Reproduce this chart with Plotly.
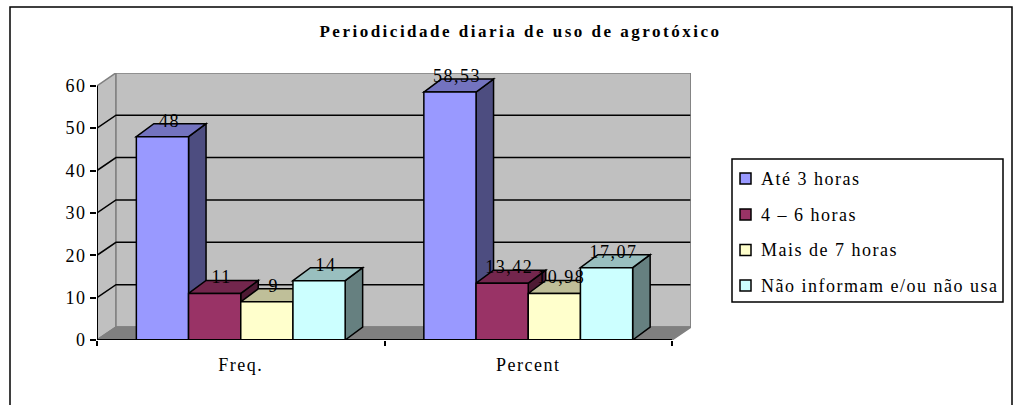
import plotly.graph_objects as go

# ---- data ----
categories = ["Freq.", "Percent"]
series_names = ["Até 3 horas", "4 – 6 horas", "Mais de 7 horas", "Não informam e/ou não usa"]
ate_3 = [48, 58.53]
h4_6 = [11, 13.42]
mais_7 = [9, 10.98]
nao_inf = [14, 17.07]
label_ate_3 = ["48", "58,53"]
label_h4_6 = ["11", "13,42"]
label_mais_7 = ["9", "10,98"]
label_nao_inf = ["14", "17,07"]
y_ticks = [0, 10, 20, 30, 40, 50, 60]
title_text = "Periodicidade diaria de uso de agrotóxico"

series_values = [ate_3, h4_6, mais_7, nao_inf]
series_labels = [label_ate_3, label_h4_6, label_mais_7, label_nao_inf]
front = ["#9999FF", "#993366", "#FFFFCC", "#CCFFFF"]
top = ["#7373BF", "#73264D", "#BFBF99", "#99BFBF"]
side = ["#4D4D80", "#4D1A33", "#808066", "#668080"]

# ---- page geometry (pixels) ----
W, H = 1016, 405
L, R, T, B = 97, 691, 73, 340      # plot rectangle including wall depth
FRONT_R = 672
Y60 = 85.8
px_x = (FRONT_R - L) / 2.0          # px per category
px_y = (B - Y60) / 60.0             # px per unit
x_max = (R - L) / px_x
y_max = (B - T) / px_y
wall_dx, wall_dy = 19 / px_x, 13 / px_y
bar_dx, bar_dy = 17.5 / px_x, 13 / px_y
bar_w = 52.2 / px_x
lab_dx, lab_dy = 7 / px_x, 14.5 / px_y
FONT = "Liberation Serif"
LW = 1.5
FS = 18


def poly(points):
    return "M" + " L".join(f"{x:.5f},{y:.5f}" for x, y in points) + " Z"


def px(x):
    return (x - L) / (R - L)


def py(y):
    return (B - y) / (B - T)


shapes = []
# side wall, back wall, floor
shapes.append(dict(type="path", xref="x", yref="y", layer="below", fillcolor="#C0C0C0",
                   line=dict(color="#808080", width=LW),
                   path=poly([(0, 0), (wall_dx, wall_dy), (wall_dx, 60 + wall_dy), (0, 60)])))
shapes.append(dict(type="path", xref="x", yref="y", layer="below", fillcolor="#C0C0C0",
                   line=dict(color="#808080", width=LW),
                   path=poly([(wall_dx, wall_dy), (2 + wall_dx, wall_dy),
                              (2 + wall_dx, 60 + wall_dy), (wall_dx, 60 + wall_dy)])))
shapes.append(dict(type="path", xref="x", yref="y", layer="below", fillcolor="#808080",
                   line=dict(color="#808080", width=LW),
                   path=poly([(0, 0), (wall_dx, wall_dy), (2 + wall_dx, wall_dy), (2, 0)])))
# gridlines
for v in y_ticks[1:-1]:
    shapes.append(dict(type="path", xref="x", yref="y", layer="below",
                       line=dict(color="#000000", width=LW),
                       path=f"M0,{v} L{wall_dx},{v + wall_dy} L{2 + wall_dx},{v + wall_dy}"))

# depth faces of each bar, from the data
n = len(series_values)
gap = 1 - n * bar_w
for c in range(len(categories)):
    for s in range(n):
        v = series_values[s][c]
        x0 = c + gap / 2 + s * bar_w
        x1 = x0 + bar_w
        shapes.append(dict(type="path", xref="x", yref="y", layer="below", fillcolor=side[s],
                           line=dict(color="#000000", width=LW),
                           path=poly([(x1, 0), (x1 + bar_dx, bar_dy), (x1 + bar_dx, v + bar_dy), (x1, v)])))
        shapes.append(dict(type="path", xref="x", yref="y", layer="below", fillcolor=top[s],
                           line=dict(color="#000000", width=LW),
                           path=poly([(x0, v), (x0 + bar_dx, v + bar_dy), (x1 + bar_dx, v + bar_dy), (x1, v)])))

# outer frame and legend box, in page pixels
shapes.append(dict(type="path", xref="paper", yref="paper", layer="below",
                   line=dict(color="#000000", width=LW),
                   path=f"M{px(10)},{py(410)} L{px(10)},{py(7)} L{px(1012)},{py(7)} L{px(1012)},{py(410)}"))
shapes.append(dict(type="rect", xref="paper", yref="paper", layer="above",
                   x0=px(732), x1=px(1003), y0=py(159), y1=py(302),
                   fillcolor="#FFFFFF", line=dict(color="#000000", width=LW)))
legend_y = [178.5, 214.5, 250, 285.5]
annotations = []
for s, name in enumerate(series_names):
    shapes.append(dict(type="rect", xref="paper", yref="paper", layer="above",
                       x0=px(740), x1=px(751), y0=py(legend_y[s] - 5.5), y1=py(legend_y[s] + 5.5),
                       fillcolor=front[s], line=dict(color="#000000", width=LW)))
    annotations.append(dict(xref="paper", yref="paper", x=px(759), y=py(legend_y[s]),
                            xanchor="left", yanchor="middle", align="left", showarrow=False, text=name,
                            font=dict(family=FONT, size=FS, color="#000000")))

fig = go.Figure()
centers = [c + 0.5 for c in range(len(categories))]
for s, name in enumerate(series_names):
    bar_x = [c + gap / 2 + (s + 0.5) * bar_w for c in range(len(categories))]
    fig.add_trace(go.Bar(name=name, x=bar_x, y=series_values[s], width=bar_w,
                         marker=dict(color=front[s], line=dict(color="#000000", width=LW)),
                         hoverinfo="skip", showlegend=False))

# axis lines and upper/right wall edges
fig.add_trace(go.Scatter(x=[0, 2], y=[0, 0], mode="lines", cliponaxis=False, showlegend=False,
                         hoverinfo="skip", line=dict(color="#000000", width=2)))
fig.add_trace(go.Scatter(x=[0, 0], y=[0, 60], mode="lines", cliponaxis=False, showlegend=False,
                         hoverinfo="skip", line=dict(color="#000000", width=2)))
fig.add_trace(go.Scatter(x=[wall_dx, 2 + wall_dx, 2 + wall_dx], y=[60 + wall_dy, 60 + wall_dy, wall_dy],
                         mode="lines", cliponaxis=False, showlegend=False, hoverinfo="skip",
                         line=dict(color="#808080", width=LW)))

# data labels
lx, ly, lt = [], [], []
for c in range(len(categories)):
    for s in range(n):
        lx.append(c + gap / 2 + (s + 0.5) * bar_w + lab_dx)
        ly.append(series_values[s][c] + lab_dy)
        lt.append(series_labels[s][c])
fig.add_trace(go.Scatter(x=lx, y=ly, text=lt, mode="text", textposition="middle center",
                         cliponaxis=False, showlegend=False, hoverinfo="skip",
                         textfont=dict(family=FONT, size=FS, color="#000000")))

fig.update_layout(
    width=W, height=H, autosize=False, showlegend=False,
    margin=dict(l=L, r=W - R, t=T, b=H - B, pad=0),
    paper_bgcolor="#FFFFFF", plot_bgcolor="rgba(0,0,0,0)",
    barmode="overlay",
    title=dict(text=f"<b>{title_text}</b>", x=520.5 / W, xanchor="center", y=1 - 31 / H, yanchor="middle",
               font=dict(family=FONT, size=17, color="#000000")),
    shapes=shapes, annotations=annotations,
    font=dict(family=FONT, size=FS, color="#000000"),
)
fig.update_xaxes(range=[0, x_max], showgrid=False, zeroline=False, showline=False,
                 tickmode="array", tickvals=centers, ticktext=categories, ticks="",
                 ticklabelstandoff=12, tickfont=dict(family=FONT, size=FS),
                 minor=dict(tickmode="array", tickvals=[0, 1, 2], ticks="outside", ticklen=5,
                            tickwidth=LW, tickcolor="#000000", showgrid=False))
fig.update_yaxes(range=[0, y_max], showgrid=False, zeroline=False, showline=False,
                 tickmode="array", tickvals=y_ticks, ticks="outside", ticklen=6, tickwidth=LW,
                 tickcolor="#000000", tickfont=dict(family=FONT, size=FS))

fig.write_html("out.html", config={"displayModeBar": False},
               post_script="document.body.style.margin='0';"
                           "document.querySelectorAll('svg text').forEach(function(e){e.style.letterSpacing='1.5px';});"
                           "var t=document.querySelector('.gtitle');"
                           "if(t){t.style.letterSpacing='2.5px';}")
